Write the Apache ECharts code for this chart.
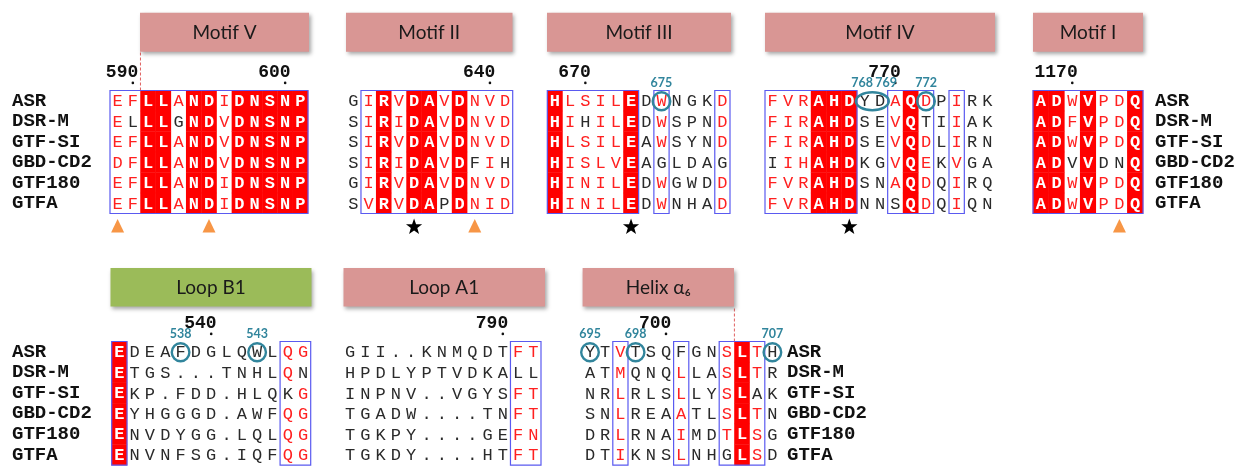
<!DOCTYPE html>
<html><head><meta charset="utf-8">
<script src="https://cdn.jsdelivr.net/npm/echarts@6/dist/echarts.min.js"></script>
<style>html,body{margin:0;padding:0;background:#fff}#c{width:1252px;height:466px}</style>
</head><body><div id="c"></div>
<script>
// ---------------- DATA ----------------
const names = ['ASR','DSR-M','GTF-SI','GBD-CD2','GTF180','GTFA'];
const headers = ['Motif V','Motif II','Motif III','Motif IV','Motif I','Loop B1','Loop A1','Helix α₆'];

// conservation codes: 2 = strictly identical (red box), 1 = similar (red letter), 0 = other
const motifVSeq  = ['EFLLANDIDNSNP','ELLLGNDVDNSNP','EFLLANDVDNSNP','DFLLANDVDNSNP','EFLLANDIDNSNP','EFLLANDIDNSNP'];
const motifVCons = ['1122122122222','1022022122222','1122122122222','1122122122222','1122122122222','1122122122222'];
const motifVBoxes = [[0,12]];
const motifVTicks = [[1,'590'],[11,'600']];
const motifVMarks = [[0,'tri'],[6,'tri']];

const motifIISeq  = ['GIRVDAVDNVD','SIRIDAVDNVD','SIRVDAVDNVD','SIRIDAVDFIH','GIRVDAVDNVD','SVRVDAPDNID'];
const motifIICons = ['01212212111','01212212111','01212212111','01212212010','01212212111','01212202111'];
const motifIIBoxes = [[1,10]];
const motifIITicks = [[9,'640']];
const motifIIMarks = [[4,'star'],[8,'tri']];

const motifIIISeq  = ['HLSILEDWNGKD','HIHILEDWSPND','HLSILEAWSYND','HISLVEAGLDAG','HINILEDWGWDD','HINILEDWNHAD'];
const motifIIICons = ['211112010001','210112010001','211112010001','211112000000','211112010001','211112010001'];
const motifIIIBoxes = [[0,5],[7,7],[11,11]];
const motifIIITicks = [[2,'670']];
const motifIIIMarks = [[5,'star']];
const motifIIISites = [[7,'675']];
const motifIIICircles = [[7,7]];

const motifIVSeq  = ['FVRAHDYDAQDPIRK','FIRAHDSEVQTIIAK','FIRAHDSEVQDLIRN','IIHAHDKGVQEKVGA','FVRAHDSNAQDQIRQ','FVRAHDNNSQDQIQN'];
const motifIVCons = ['111222001210100','111222001200100','111222001210100','011222001210100','111222001210100','111222000210100'];
const motifIVBoxes = [[0,5],[8,10],[12,12]];
const motifIVTicks = [[8,'770']];
const motifIVMarks = [[5,'star']];
const motifIVSites = [[6,'768'],[7,'769'],[10,'772']];
const motifIVCircles = [[6,7],[10,10]];

const motifISeq  = ['ADWVPDQ','ADFVPDQ','ADWVPDQ','ADVVDNQ','ADWVPDQ','ADWVPDQ'];
const motifICons = ['2212112','2212112','2212112','2202002','2212112','2212112'];
const motifIBoxes = [[0,6]];
const motifITicks = [[2,'1170']];
const motifIMarks = [[5,'tri']];

const loopB1Seq  = ['EDEAFDGLQWLQG','ETGS...TNHLQN','EKP.FDD.HLQKG','EYHGGGD.AWFQG','ENVDYGG.LQLQG','ENVNFSG.IQFQG'];
const loopB1Cons = ['2000000000011','2000000000010','2000000000001','2000000000011','2000000000011','2000000000011'];
const loopB1Boxes = [[0,0],[11,12]];
const loopB1Ticks = [[6,'540']];
const loopB1Sites = [[4,'538'],[9,'543']];
const loopB1Circles = [[4,4],[9,9]];

const loopA1Seq  = ['GII..KNMQDTFT','HPDLYPTVDKALL','INPNV..VGYSFT','TGADW....TNFT','TGKPY....GEFN','TGKDY....HTFT'];
const loopA1Cons = ['0000000000011','0000000000000','0000000000011','0000000000011','0000000000011','0000000000011'];
const loopA1Boxes = [[11,12]];
const loopA1Ticks = [[10,'790']];

const helixSeq  = ['YTVTSQFGNSLTH','ATMQNQLLASLTR','NRLRLSLLYSLAK','SNLREAATLSLTN','DRLRNAIMDTLSG','DTIKNSLNHGLSD'];
const helixCons = ['0010000001210','0010001001210','0010001001200','0010001001210','0010001001210','0010001000210'];
const helixBoxes = [[2,2],[6,6],[9,11]];
const helixTicks = [[5,'700']];
const helixSites = [[0,'695'],[3,'698'],[12,'707']];
const helixCircles = [[0,0],[3,3],[12,12]];

// ---------------- LAYOUT ----------------
const TOP = {top:90.5, height:123};
const BOT = {top:341.5, height:123.6};
const blocks = [
  {seq:motifVSeq, cons:motifVCons, boxes:motifVBoxes, ticks:motifVTicks, marks:motifVMarks, sites:[], circles:[], grid:{left:110, width:198, ...TOP}, names:'left', margin:98, dashAfter:1, dashLen:38.8, header:{x:140, y:12.7, w:169, h:39, color:'#D99694'}},
  {seq:motifIISeq, cons:motifIICons, boxes:motifIIBoxes, ticks:motifIITicks, marks:motifIIMarks, sites:[], circles:[], grid:{left:345.8, width:166.9, ...TOP}, header:{x:346, y:12.7, w:166.5, h:39, color:'#D99694'}},
  {seq:motifIIISeq, cons:motifIIICons, boxes:motifIIIBoxes, ticks:motifIIITicks, marks:motifIIIMarks, sites:motifIIISites, circles:motifIIICircles, grid:{left:547.3, width:182.7, ...TOP}, header:{x:547, y:12.7, w:184, h:39, color:'#D99694'}},
  {seq:motifIVSeq, cons:motifIVCons, boxes:motifIVBoxes, ticks:motifIVTicks, marks:motifIVMarks, sites:motifIVSites, circles:motifIVCircles, grid:{left:765, width:230, ...TOP}, header:{x:765, y:12.7, w:230, h:39, color:'#D99694'}},
  {seq:motifISeq, cons:motifICons, boxes:motifIBoxes, ticks:motifITicks, marks:motifIMarks, sites:[], circles:[], grid:{left:1033, width:110, ...TOP}, names:'right', margin:12, header:{x:1033, y:12.7, w:110, h:39, color:'#D99694'}},
  {seq:loopB1Seq, cons:loopB1Cons, boxes:loopB1Boxes, ticks:loopB1Ticks, marks:[], sites:loopB1Sites, circles:loopB1Circles, grid:{left:111.7, width:199, ...BOT}, names:'left', margin:99.7, header:{x:110.5, y:268, w:201, h:38.5, color:'#9BBB59'}},
  {seq:loopA1Seq, cons:loopA1Cons, boxes:loopA1Boxes, ticks:loopA1Ticks, marks:[], sites:[], circles:[], grid:{left:342.5, width:198.5, ...BOT}, header:{x:343.5, y:268, w:201.5, h:38.5, color:'#D99694'}},
  {seq:helixSeq, cons:helixCons, boxes:helixBoxes, ticks:helixTicks, marks:[], sites:helixSites, circles:helixCircles, grid:{left:582.4, width:197.6, ...BOT}, names:'right', margin:7, dashAfter:9, dashLen:34.8, header:{x:582.6, y:268, w:151.4, h:38.5, color:'#D99694'}}
];

const RED = '#ff0000', RED_TXT = '#ff2020', BLACK_TXT = '#2a2a2a', BLUE = '#5a5af0', TEAL = '#31859C', ORANGE = '#F79646';
const SEQ_FONT = "17px 'Liberation Mono'";
const SEQ_FONT_B = "bold 17px 'Liberation Mono'";

const grids = [], xAxes = [], yAxes = [], series = [], graphics = [];

blocks.forEach((b, i) => {
  const ncol = b.seq[0].length;
  grids.push({left:b.grid.left, top:b.grid.top, width:b.grid.width, height:b.grid.height, containLabel:false});
  xAxes.push({gridIndex:i, type:'category', data:Array.from({length:ncol}, (_, k) => String(k)), show:false});
  yAxes.push({gridIndex:i, type:'category', data:names, inverse:true, position:b.names || 'left',
    axisLine:{show:false}, axisTick:{show:false}, splitLine:{show:false},
    axisLabel:{show:!!b.names, interval:0, margin:b.margin || 8, align:'left',
      fontFamily:'Liberation Mono', fontWeight:'bold', fontSize:19, color:'#111'}});

  // cells
  const cells = [];
  b.seq.forEach((s, r) => { [...s].forEach((ch, c) => cells.push({c, r, ch, k:+b.cons[r][c]})); });
  series.push({type:'custom', xAxisIndex:i, yAxisIndex:i, silent:true, z:2,
    data:cells.map(d => [d.c, d.r]),
    renderItem:(p, api) => {
      const d = cells[p.dataIndex];
      const pt = api.coord([d.c, d.r]); const sz = api.size([1, 1]);
      const ch = [];
      if (d.k === 2) ch.push({type:'rect', shape:{x:pt[0]-sz[0]/2-0.2, y:pt[1]-sz[1]/2-0.2, width:sz[0]+0.4, height:sz[1]+0.4}, style:{fill:RED}});
      ch.push({type:'text', style:{x:pt[0], y:pt[1]+1, text:d.ch, textAlign:'center', textVerticalAlign:'middle',
        font: d.k === 2 ? SEQ_FONT_B : SEQ_FONT, fill: d.k === 2 ? '#fff' : (d.k === 1 ? RED_TXT : BLACK_TXT)}});
      return {type:'group', children:ch};
    }});

  // blue similarity boxes
  series.push({type:'custom', xAxisIndex:i, yAxisIndex:i, silent:true, z:3,
    data:b.boxes,
    renderItem:(p, api) => {
      const bx = b.boxes[p.dataIndex];
      const p0 = api.coord([bx[0], 0]), p1 = api.coord([bx[1], names.length-1]); const sz = api.size([1, 1]);
      return {type:'rect', shape:{x:p0[0]-sz[0]/2, y:p0[1]-sz[1]/2, width:p1[0]-p0[0]+sz[0], height:p1[1]-p0[1]+sz[1]},
        style:{fill:'none', stroke:BLUE, lineWidth:1.2}};
    }});

  // numbering ticks
  series.push({type:'custom', xAxisIndex:i, yAxisIndex:i, silent:true, z:3,
    data:b.ticks.map(t => [t[0], 0]),
    renderItem:(p, api) => {
      const t = b.ticks[p.dataIndex];
      const pt = api.coord([t[0], 0]); const sz = api.size([1, 1]);
      const top = pt[1]-sz[1]/2;
      return {type:'group', children:[
        {type:'text', style:{x:pt[0]+5.4, y:top-18.5, text:t[1], textAlign:'right', textVerticalAlign:'middle', font:"bold 18px 'Liberation Mono'", fill:'#111'}},
        {type:'circle', shape:{cx:pt[0], cy:top-7.6, r:1.3}, style:{fill:'#111'}}
      ]};
    }});

  // markers (triangles / stars) below the block
  if (b.marks.length) series.push({type:'custom', xAxisIndex:i, yAxisIndex:i, silent:true, z:3,
    data:b.marks.map(m => [m[0], names.length-1]),
    renderItem:(p, api) => {
      const m = b.marks[p.dataIndex];
      const pt = api.coord([m[0], names.length-1]); const sz = api.size([1, 1]);
      const yb = pt[1]+sz[1]/2;
      if (m[1] === 'tri') return {type:'polygon', shape:{points:[[pt[0], yb+5.5],[pt[0]-6.5, yb+19],[pt[0]+6.5, yb+19]]}, style:{fill:ORANGE}};
      const pts = []; const cy = yb+13.5;
      for (let k = 0; k < 10; k++) { const a = -Math.PI/2 + k*Math.PI/5; const rr = k%2 ? 3.4 : 8.5; pts.push([pt[0]+rr*Math.cos(a), cy+rr*Math.sin(a)]); }
      return {type:'polygon', shape:{points:pts}, style:{fill:'#000'}};
    }});

  // teal site labels (nudged apart when two sites are in neighbouring columns)
  if (b.sites.length) series.push({type:'custom', xAxisIndex:i, yAxisIndex:i, silent:true, z:4,
    data:b.sites.map(s => [s[0], 0]),
    renderItem:(p, api) => {
      const s = b.sites[p.dataIndex];
      const pt = api.coord([s[0], 0]); const sz = api.size([1, 1]);
      const hasNext = b.sites.some(o => o[0] === s[0]+1), hasPrev = b.sites.some(o => o[0] === s[0]-1);
      const dx = hasNext ? -2.5 : (hasPrev ? 6 : 0);
      return {type:'text', style:{x:pt[0]+dx, y:pt[1]-sz[1]/2-7.8, text:s[1], textAlign:'center', textVerticalAlign:'middle', font:"bold 12.5px Lato", fill:TEAL}};
    }});

  // teal circles on the first sequence
  if (b.circles.length) series.push({type:'custom', xAxisIndex:i, yAxisIndex:i, silent:true, z:4,
    data:b.circles.map(c => [c[0], 0]),
    renderItem:(p, api) => {
      const c = b.circles[p.dataIndex];
      const p0 = api.coord([c[0], 0]), p1 = api.coord([c[1], 0]);
      return {type:'ellipse', shape:{cx:(p0[0]+p1[0])/2, cy:p0[1]+0.5, rx:(p1[0]-p0[0])/2+8.8, ry:9}, style:{fill:'none', stroke:TEAL, lineWidth:2.4}};
    }});

  // dashed red separator up to the header
  if (b.dashAfter !== undefined) series.push({type:'custom', xAxisIndex:i, yAxisIndex:i, silent:true, z:1,
    data:[[b.dashAfter, 0]],
    renderItem:(p, api) => {
      const a = api.coord([b.dashAfter, 0]), c = api.coord([b.dashAfter+1, 0]); const sz = api.size([1, 1]);
      const x = (a[0]+c[0])/2, top = a[1]-sz[1]/2;
      return {type:'line', shape:{x1:x, y1:top, x2:x, y2:top-b.dashLen}, style:{stroke:'#e06060', lineWidth:1, lineDash:[3,2]}};
    }});

  // header box
  const h = b.header;
  graphics.push({type:'rect', left:h.x, top:h.y, shape:{width:h.w, height:h.h}, z:10,
    style:{fill:h.color, shadowColor:'rgba(0,0,0,0.35)', shadowBlur:4, shadowOffsetX:1.5, shadowOffsetY:2.5}});
  graphics.push({type:'text', x:h.x + h.w/2, y:h.y + h.h/2 + 1, z:11,
    style:{text:headers[i], textAlign:'center', textVerticalAlign:'middle', font:"19px Lato", fill:'#1a1a1a'}});
});

const chart = echarts.init(document.getElementById('c'), null, {renderer:'canvas'});
chart.setOption({
  animation:false,
  backgroundColor:'#fff',
  grid:grids, xAxis:xAxes, yAxis:yAxes, series, graphic:graphics
});
</script></body></html>
